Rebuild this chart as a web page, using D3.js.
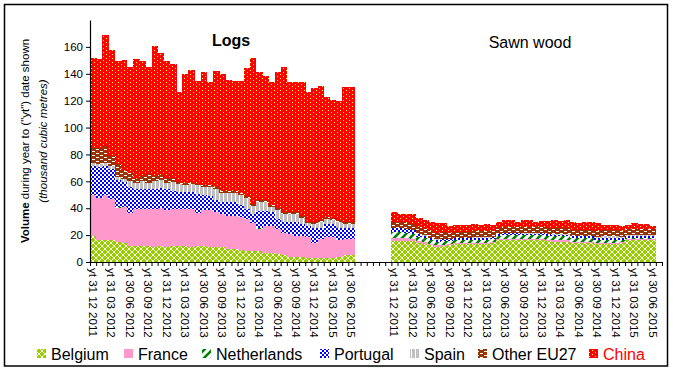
<!DOCTYPE html>
<html>
<head>
<meta charset="utf-8">
<script src="https://cdn.jsdelivr.net/npm/d3@7"></script>
<style>
body { margin: 0; background: #fff; }
svg { font-family: "Liberation Sans", Arial, sans-serif; }
</style>
</head>
<body>
<script>
// month ends shown as "yt" (year to) dates
var months = [
	"yt 31 12 2011",
	"yt 31 01 2012", "yt 29 02 2012", "yt 31 03 2012", "yt 30 04 2012", "yt 31 05 2012", "yt 30 06 2012",
	"yt 31 07 2012", "yt 31 08 2012", "yt 30 09 2012", "yt 31 10 2012", "yt 30 11 2012", "yt 31 12 2012",
	"yt 31 01 2013", "yt 28 02 2013", "yt 31 03 2013", "yt 30 04 2013", "yt 31 05 2013", "yt 30 06 2013",
	"yt 31 07 2013", "yt 31 08 2013", "yt 30 09 2013", "yt 31 10 2013", "yt 30 11 2013", "yt 31 12 2013",
	"yt 31 01 2014", "yt 28 02 2014", "yt 31 03 2014", "yt 30 04 2014", "yt 31 05 2014", "yt 30 06 2014",
	"yt 31 07 2014", "yt 31 08 2014", "yt 30 09 2014", "yt 31 10 2014", "yt 30 11 2014", "yt 31 12 2014",
	"yt 31 01 2015", "yt 28 02 2015", "yt 31 03 2015", "yt 30 04 2015", "yt 31 05 2015", "yt 30 06 2015"
];
var tickLabels = [
	"yt 31 12 2011", "yt 31 03 2012", "yt 30 06 2012", "yt 30 09 2012", "yt 31 12 2012",
	"yt 31 03 2013", "yt 30 06 2013", "yt 30 09 2013", "yt 31 12 2013", "yt 31 03 2014",
	"yt 30 06 2014", "yt 30 09 2014", "yt 31 12 2014", "yt 31 03 2015", "yt 30 06 2015"
];
var groups = ["Logs", "Sawn wood"];
var series = ["Belgium", "France", "Netherlands", "Portugal", "Spain", "Other EU27", "China"];
var yTicks = [0, 20, 40, 60, 80, 100, 120, 140, 160];

// Logs (thousand m3)
var logsBelgium = [19, 16, 16, 16, 15, 14, 12, 12, 12, 12, 11, 12, 11, 12, 12, 12, 11, 12, 12, 11, 11, 11, 10, 10, 9, 8, 8, 8, 7, 7, 6, 5, 4, 4, 4, 3, 3, 3, 3, 3, 4, 5, 5.5];
var logsFrance = [30.5, 31.9, 33.5, 30.9, 25.5, 26.7, 24.7, 27.4, 27.4, 27.4, 28.4, 27.9, 27.7, 27.4, 27.5, 27.5, 28.5, 24.5, 26.5, 27.5, 26.5, 24.5, 24.5, 24.5, 24.5, 24, 21, 16.5, 19.5, 19.5, 18.3, 16.5, 17, 15.3, 15.3, 15.3, 11.5, 14, 15.3, 15.3, 12.5, 12, 11.5];
var logsNetherlands = [0, 0, 0, 0, 0.7, 0, 0, 0, 0, 0, 0, 0, 0, 0, 0, 0, 0, 0, 0, 0, 0, 0, 0, 0, 0, 0, 0, 0.7, 0, 0, 0, 0, 0, 0, 0, 0, 0, 0, 0, 0, 0, 0, 0];
var logsPortugal = [21.8, 22.6, 21.8, 22.6, 20, 18.6, 18.8, 14.6, 15.2, 14.6, 15.2, 14.9, 15.3, 13.6, 12.5, 12.3, 12.5, 14, 11.1, 10.9, 8.9, 9.2, 10.2, 10.2, 8.7, 7.7, 7, 12.8, 11.5, 10.5, 7.7, 8.5, 9, 10.7, 9.2, 8.7, 11.1, 8.6, 9.7, 9.7, 9.1, 8, 8];
var logsSpain = [2.2, 2.5, 2.2, 2, 2.3, 2.2, 4.5, 4.5, 5.4, 5, 5.4, 6.2, 5, 6.5, 6, 5.7, 6, 6.5, 6.4, 6.6, 8.1, 6.8, 6.8, 6.8, 7.3, 7.8, 6, 6.5, 6.5, 4, 6.5, 6, 5.5, 5.5, 4.5, 2, 2.9, 3.9, 4, 3.5, 3.9, 3, 3];
var logsOther = [11, 11.5, 13, 7.5, 9.5, 6.5, 6, 3.5, 4, 6.5, 4, 4, 3.5, 3, 1.5, 1.5, 1, 1, 1, 1, 1, 1.5, 1, 1, 1.5, 1.5, 1.5, 1.5, 1.5, 1.5, 1.5, 1.5, 1.5, 1.5, 1.5, 1, 1.5, 1.5, 1.5, 1.5, 1.5, 1.5, 1.5];
var logsChina = [67, 66.5, 82.5, 78.5, 76.3, 82, 79, 88.8, 85.5, 79.5, 96.7, 90.5, 87, 84.5, 67, 81.2, 83.6, 77, 84, 76.6, 86.5, 87, 83.2, 82.5, 84, 95, 108, 95, 92, 91.5, 101.6, 107.5, 97, 97, 99.5, 96.5, 99.5, 100, 89.3, 87.5, 88.8, 100.5, 100.5];

// Sawn wood (thousand m3)
var sawnBelgium = [15.5, 15.5, 15.5, 15.5, 14, 13.5, 12.5, 11.5, 12, 12.5, 13.5, 13.5, 13.5, 13.5, 13.5, 13.5, 14, 16, 16, 16, 16, 16, 16, 16, 16, 15.5, 15, 15, 15, 14, 14, 14, 14, 13.5, 13.5, 13.5, 13.5, 14, 16, 16, 16, 16, 16];
var sawnFrance = [2, 2, 2, 1.5, 1.5, 1.5, 1.2, 1, 1, 1, 0.8, 0.8, 0.8, 0.8, 0.8, 0.8, 0.8, 1, 1, 1, 1, 1, 1, 1, 1, 1, 1, 1, 1, 1, 1, 1, 1, 1, 1, 1, 1, 0.8, 0.8, 0.8, 0.8, 0.8, 0.8];
var sawnNetherlands = [4.5, 4.5, 4, 4, 3, 2.8, 2.5, 2.5, 2.5, 2, 2, 2, 2, 2.2, 2.2, 2.2, 2.2, 2.5, 3, 3, 3, 2.8, 2.8, 2.8, 3, 3, 3, 3, 3, 2.5, 2.5, 2.5, 2.5, 2, 2, 2, 2, 1.5, 1.2, 1.2, 1.2, 1.2, 1.2];
var sawnPortugal = [3, 3, 3, 2.8, 2, 1.8, 1.6, 1.5, 1.5, 1.5, 1.5, 1.5, 1.5, 1.5, 1.5, 1.5, 1.5, 1.2, 1.2, 1.2, 1.2, 1.2, 1.2, 1.2, 1.2, 1.2, 1.2, 1.2, 1.2, 1.5, 1.5, 1.5, 1.5, 1.5, 1.5, 1.5, 1.5, 1.2, 1.2, 1.2, 1.2, 1.2, 1.2];
var sawnSpain = [0.3, 0.3, 0.3, 0.3, 0.3, 0.3, 0.3, 0.3, 0.3, 0.3, 0.3, 0.3, 0.3, 0.3, 0.3, 0.3, 0.3, 0.3, 0.3, 0.3, 0.3, 0.3, 0.3, 0.3, 0.3, 0.3, 0.3, 0.3, 0.3, 0.5, 0.5, 0.5, 0.5, 0.8, 1, 1, 1, 1, 1, 1, 0.8, 0.8, 0.8];
var sawnOther = [4.5, 4.5, 4.5, 4.5, 5, 5, 4.8, 4.8, 4.8, 4.5, 4.5, 4.5, 4.5, 4.5, 4.5, 4.5, 4.5, 4.5, 4.5, 4.5, 4.5, 4.5, 4.5, 4.5, 4.5, 4.5, 4.5, 4.5, 4.5, 4.5, 4.5, 4.5, 4.5, 4.5, 4.5, 4.5, 4.5, 4.5, 4.5, 4.5, 4.5, 4.5, 4.3];
var sawnChina = [7.4, 5.7, 6.2, 6.9, 7.2, 6.4, 6.9, 7.2, 6.7, 5, 4.9, 4.9, 4.9, 5.5, 4.7, 5.5, 4.2, 4.3, 5.3, 5.3, 3.8, 5.5, 5.5, 4, 4.5, 5, 6.3, 5.5, 6.3, 5.5, 5, 5.8, 5.8, 5.7, 4, 4, 4, 3.8, 3, 4.3, 3.8, 3.8, 2.5];

var W = 673, H = 370;
var mLeft = 90, mRight = 662, mTop = 20, mBottom = 262;

var svg = d3.select("body").append("svg")
	.attr("width", W)
	.attr("height", H);

// fill patterns
var defs = svg.append("defs");
function pat(id, w, h, bg) {
	var pp = defs.append("pattern").attr("id", id)
		.attr("patternUnits", "userSpaceOnUse")
		.attr("width", w).attr("height", h);
	pp.append("rect").attr("width", w).attr("height", h).attr("fill", bg);
	return pp;
}
function dot(pp, px, py, w, h, c) {
	pp.append("rect").attr("x", px).attr("y", py).attr("width", w).attr("height", h)
		.attr("fill", c).attr("shape-rendering", "crispEdges");
}
var p;
p = pat("pBel", 6, 6, "#99cc00");
p.append("path").attr("d", "M0,0L6,6M6,0L0,6M-1,5L1,7M5,-1L7,1M-1,1L1,-1M5,7L7,5").attr("stroke", "#fff").attr("stroke-width", 0.9);
p = pat("pFra", 4, 4, "#ff99cc");
p = pat("pNet", 8, 8, "#fff");
p.append("path").attr("d", "M0,8L8,0M-2,2L2,-2M6,10L10,6").attr("stroke", "#008000").attr("stroke-width", 2.6);
p = pat("pPor", 4, 4, "#fff");
dot(p, 0, 0, 2, 2, "#0000ff");
dot(p, 2, 2, 2, 2, "#0000ff");
p = pat("pSpa", 4, 4, "#fff");
dot(p, 0, 0, 3, 4, "#c0c0c0");
p = pat("pOth", 8, 4, "#993300");
dot(p, 0, 1, 3, 1, "#fff");
dot(p, 4, 3, 3, 1, "#fff");
p = pat("pChi", 6, 4, "#ff0000");
dot(p, 1, 0, 1, 1, "#ffff00");
dot(p, 4, 2, 1, 1, "#ffff00");
var fills = {"Belgium": "url(#pBel)", "France": "url(#pFra)", "Netherlands": "url(#pNet)", "Portugal": "url(#pPor)",
	"Spain": "url(#pSpa)", "Other EU27": "url(#pOth)", "China": "url(#pChi)"};

// rows
var data = {
	"Logs": [logsBelgium, logsFrance, logsNetherlands, logsPortugal, logsSpain, logsOther, logsChina],
	"Sawn wood": [sawnBelgium, sawnFrance, sawnNetherlands, sawnPortugal, sawnSpain, sawnOther, sawnChina]
};
var rows = [];
groups.forEach(function(g) {
	months.forEach(function(m, i) {
		var r = {key: g + "|" + m};
		series.forEach(function(s, j) { r[s] = data[g][j][i]; });
		rows.push(r);
	});
});

// category slots: logs, 6 empty, sawn wood, 1 empty
var domain = [];
months.forEach(function(m) { domain.push("Logs|" + m); });
d3.range(6).forEach(function(k) { domain.push("gap" + k); });
months.forEach(function(m) { domain.push("Sawn wood|" + m); });
domain.push("end");

var x = d3.scaleBand().domain(domain).range([mLeft, mRight]).padding(0);
var y = d3.scaleLinear().domain([0, 180]).range([mBottom, mTop]);

var stacked = d3.stack().keys(series)(rows);
svg.append("g").selectAll("g")
	.data(stacked)
	.join("g")
	.attr("fill", function(d) { return fills[d.key]; })
	.selectAll("rect")
	.data(function(d) { return d; })
	.join("rect")
	.attr("x", function(d) { return x(d.data.key); })
	.attr("y", function(d) { return y(d[1]); })
	.attr("width", x.bandwidth() + 0.4)
	.attr("height", function(d) { return Math.max(0, y(d[0]) - y(d[1])); })
	.attr("shape-rendering", "crispEdges");

// y axis
var yAxis = svg.append("g")
	.attr("transform", "translate(" + mLeft + ",0)")
	.call(d3.axisLeft(y).tickValues(yTicks).tickSize(4).tickSizeOuter(0));
yAxis.select(".domain").attr("stroke-width", 1.2);
yAxis.selectAll("text").style("font-size", "11.5px").attr("x", -7);

// x axis: tick marks at each slot boundary
var xi = d3.scaleLinear().domain([0, domain.length]).range([mLeft, mRight]);
var xTickAxis = svg.append("g")
	.attr("transform", "translate(0," + mBottom + ")")
	.call(d3.axisBottom(xi).tickValues(d3.range(domain.length + 1)).tickSize(4).tickSizeOuter(0).tickFormat(""));
xTickAxis.select(".domain").attr("stroke-width", 1.2);

var labelKeys = [];
groups.forEach(function(g) { tickLabels.forEach(function(t) { labelKeys.push(g + "|" + t); }); });
var xLab = svg.append("g")
	.attr("transform", "translate(0," + mBottom + ")")
	.call(d3.axisBottom(x).tickValues(labelKeys).tickSize(0).tickFormat(function(k) { return k.split("|")[1]; }));
xLab.select(".domain").remove();
xLab.selectAll("text")
	.style("font-size", "11.5px")
	.style("text-anchor", "start")
	.attr("transform", "rotate(90)")
	.attr("x", 6)
	.attr("y", 0)
	.attr("dy", "0.35em");

// panel titles
svg.append("text").attr("x", 231).attr("y", 46).attr("text-anchor", "middle")
	.style("font-size", "16px").style("font-weight", "bold").text(groups[0]);
svg.append("text").attr("x", 530).attr("y", 48).attr("text-anchor", "middle")
	.style("font-size", "16px").text(groups[1]);

// y title
var yt = svg.append("text").attr("transform", "translate(29,141)rotate(-90)")
	.attr("text-anchor", "middle").style("font-size", "11.5px");
yt.append("tspan").style("font-weight", "bold").text("Volume");
yt.append("tspan").text(" during year to (\"yt\") date shown");
svg.append("text").attr("transform", "translate(47,141)rotate(-90)")
	.attr("text-anchor", "middle").style("font-size", "11.5px").style("font-style", "italic")
	.text("(thousand cubic metres)");

// legend
var legendX = [51, 138, 216, 334, 424, 492, 603];
var leg = svg.append("g").selectAll("g")
	.data(series)
	.join("g")
	.attr("transform", function(d, i) { return "translate(" + legendX[i] + ",354)"; });
leg.append("rect")
	.attr("x", -14).attr("y", -5).attr("width", 9).attr("height", 9)
	.attr("fill", function(d) { return fills[d]; });
leg.append("text")
	.attr("y", 6)
	.style("font-size", "16px")
	.attr("fill", function(d) { return d === "China" ? "#ff0000" : "#000"; })
	.text(function(d) { return d; });

// outer frame
svg.append("rect").attr("x", 4.5).attr("y", 4.5).attr("width", 663).attr("height", 361.5)
	.attr("fill", "none").attr("stroke", "#000").attr("stroke-width", 1.5);
</script>
</body>
</html>
